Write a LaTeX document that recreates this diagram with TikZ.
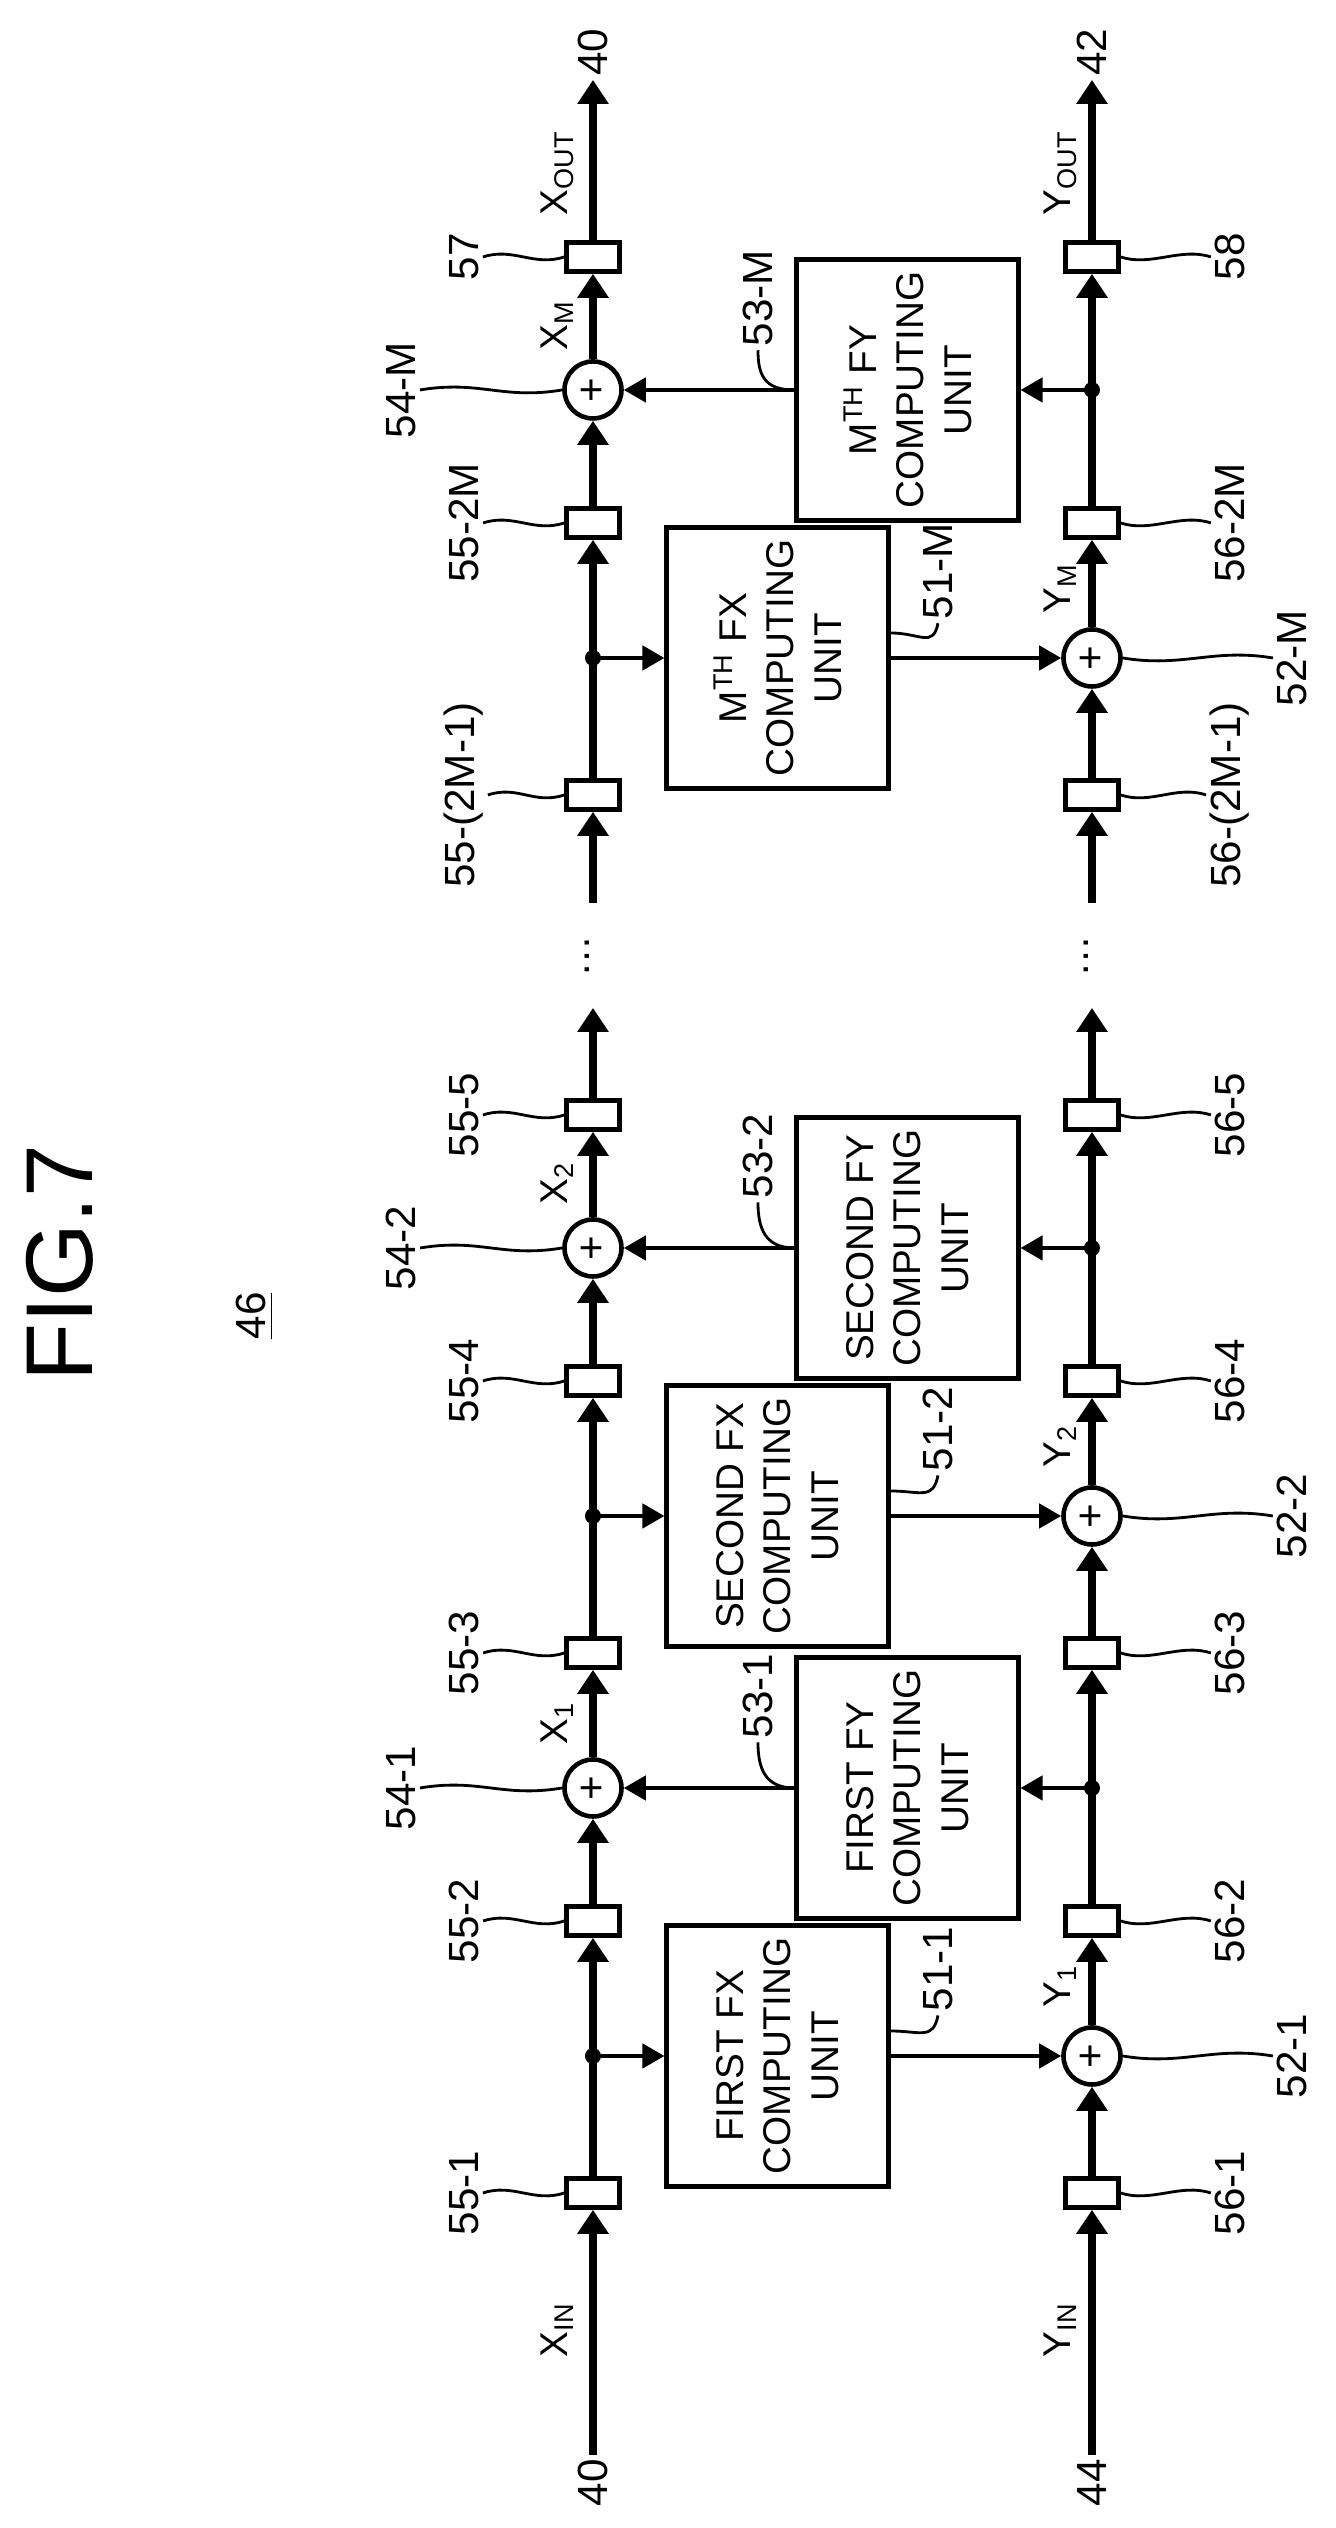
\documentclass[tikz,border=0pt]{standalone}
\usepackage{fontspec}
\setmainfont{Liberation Sans}
\usetikzlibrary{arrows.meta}
\tikzset{
  sig/.style={line width=2.4pt},
  sigto/.style={sig,-{Triangle[length=0.24cm,width=0.3cm]}},
  feed/.style={line width=1.3pt,-{Triangle[length=0.22cm,width=0.24cm]}},
  reg/.style={draw,fill=white,line width=1.3pt,minimum width=0.29cm,minimum height=0.53cm,inner sep=0pt},
  adder/.style={draw,circle,fill=white,line width=1.3pt,minimum size=0.57cm,inner sep=0pt,font=\fontsize{12}{12}\selectfont},
  jn/.style={circle,fill,inner sep=0pt,minimum size=0.16cm},
  unit/.style={draw,line width=1.4pt,minimum width=2.61cm,minimum height=2.21cm,align=center,font=\fontsize{11}{13.5}\selectfont},
  ref/.style={inner sep=1pt,font=\fontsize{12}{12}\selectfont},
  sigl/.style={inner sep=1pt,font=\fontsize{11}{11}\selectfont},
  lead/.style={line width=0.8pt},
}
\begin{document}
\begin{tikzpicture}[x=0.01cm,y=0.01cm]
\begin{scope}[rotate=90,transform shape]
\useasboundingbox (0,0) rectangle (2528,1335);
% title
\node[font=\fontsize{27}{27}\selectfont] (fig) at (1265,1275) {FIG.7};
\node[ref] (l46) at (1212,1080) {\underline{46}};
% line ends
\coordinate (xs1) at (73,742);   \coordinate (xe1) at (1520,742);
\coordinate (xs2) at (1625,742); \coordinate (xe2) at (2448,742);
\coordinate (ys1) at (73,243);   \coordinate (ye1) at (1520,243);
\coordinate (ys2) at (1625,243); \coordinate (ye2) at (2448,243);
% columns
\foreach \k/\b/\ord in {1/335/FIRST,2/875/SECOND,M/1733/{M\textsuperscript{TH}}}{
  \node[reg] (bxa\k) at (\b,742) {};
  \node[jn] (dx\k) at (\b+137,742) {};
  \node[reg] (bxb\k) at (\b+272,742) {};
  \node[adder] (ax\k) at (\b+405,742) {+};
  \node[reg] (bya\k) at (\b,243) {};
  \node[adder] (ay\k) at (\b+137,243) {+};
  \node[reg] (byb\k) at (\b+272,243) {};
  \node[jn] (dy\k) at (\b+405,243) {};
  \node[unit] (fx\k) at (\b+137,557.5) {\ord\ FX\\COMPUTING\\UNIT};
  \node[unit] (fy\k) at (\b+405,427.5) {\ord\ FY\\COMPUTING\\UNIT};
  \draw[sig] (bxa\k) -- (dx\k.center);
  \draw[sigto] (dx\k.center) -- (bxb\k);
  \draw[sigto] (bxb\k) -- (ax\k);
  \draw[sigto] (bya\k) -- (ay\k);
  \draw[sigto] (ay\k) -- (byb\k);
  \draw[sig] (byb\k) -- (dy\k.center);
  \draw[feed] (dx\k.center) -- (fx\k);
  \draw[feed] (fx\k) -- (ay\k);
  \draw[feed] (dy\k.center) -- (fy\k);
  \draw[feed] (fy\k) -- (ax\k);
}
\node[reg] (bxc2) at (1413,742) {};
\node[reg] (bxcM) at (2271,742) {};
\node[reg] (byc2) at (1413,243) {};
\node[reg] (bycM) at (2271,243) {};
\draw[sigto] (xs1) -- (bxa1);
\draw[sigto] (ax1) -- (bxa2);
\draw[sigto] (ax2) -- (bxc2);
\draw[sigto] (bxc2) -- (xe1);
\draw[sigto] (xs2) -- (bxaM);
\draw[sigto] (axM) -- (bxcM);
\draw[sigto] (bxcM) -- (xe2);
\draw[sigto] (ys1) -- (bya1);
\draw[sigto] (dy1.center) -- (bya2);
\draw[sigto] (dy2.center) -- (byc2);
\draw[sigto] (byc2) -- (ye1);
\draw[sigto] (ys2) -- (byaM);
\draw[sigto] (dyM.center) -- (bycM);
\draw[sigto] (bycM) -- (ye2);
\node[ref] (gapx) at (1572,748) {\ldots};
\node[ref] (gapy) at (1572,249) {\ldots};
% end labels
\node[ref,anchor=east] (l40a) at (xs1) {40};
\node[ref,anchor=west] (l40b) at (xe2) {40};
\node[ref,anchor=east] (l44) at (ys1) {44};
\node[ref,anchor=west] (l42) at (ye2) {42};
% signal names
\node[sigl] (sxin) at (198,778) {X\textsubscript{IN}};
\node[sigl] (syin) at (198,275) {Y\textsubscript{IN}};
\node[sigl] (sxout) at (2355,778) {X\textsubscript{OUT}};
\node[sigl] (syout) at (2355,275) {Y\textsubscript{OUT}};
\foreach \k/\b in {1/335,2/875,M/1733}{
  \node[sigl] (sx\k) at (\b+470,778) {X\textsubscript{\k}};
  \node[sigl] (sy\k) at (\b+207,275) {Y\textsubscript{\k}};
}
% reference numerals
\foreach \k/\b/\ra/\rb/\rs/\ya/\yb/\ys/\rf/\rg in {
  1/335/55-1/55-2/54-1/56-1/56-2/52-1/51-1/53-1,
  2/875/55-3/55-4/54-2/56-3/56-4/52-2/51-2/53-2,
  M/1733/55-(2M-1)/55-2M/54-M/56-(2M-1)/56-2M/52-M/51-M/53-M}{
  \node[ref] (lxa\k) at (\b,871) {\ra};
  \node[ref] (lxb\k) at (\b+272,871) {\rb};
  \node[ref] (lax\k) at (\b+405,934) {\rs};
  \node[ref] (lya\k) at (\b,105) {\ya};
  \node[ref] (lyb\k) at (\b+272,105) {\yb};
  \node[ref] (lay\k) at (\b+137,43) {\ys};
  \node[ref] (lfx\k) at (\b+224,397) {\rf};
  \node[ref] (lfy\k) at (\b+497,577) {\rg};
  \draw[lead] (lxa\k.south) .. controls +(10,-30) and +(-10,30) .. (bxa\k.north);
  \draw[lead] (lxb\k.south) .. controls +(10,-30) and +(-10,30) .. (bxb\k.north);
  \draw[lead] (lax\k.south) .. controls +(10,-60) and +(-10,60) .. (ax\k.north);
  \draw[lead] (lya\k.north) .. controls +(10,30) and +(-10,-30) .. (bya\k.south);
  \draw[lead] (lyb\k.north) .. controls +(10,30) and +(-10,-30) .. (byb\k.south);
  \draw[lead] (lay\k.north) .. controls +(10,60) and +(-10,-60) .. (ay\k.south);
  \draw[lead] (fx\k.south) ++(25,0) .. controls +(0,-30) and +(-25,5) .. (lfx\k.west);
  \draw[lead] (fy\k.north) .. controls +(0,30) and +(-25,0) .. (lfy\k.west);
}
\foreach \n/\u/\ra/\ya in {c2/1413/55-5/56-5,cM/2271/57/58}{
  \node[ref] (lx\n) at (\u,871) {\ra};
  \node[ref] (ly\n) at (\u,105) {\ya};
  \draw[lead] (lx\n.south) .. controls +(10,-30) and +(-10,30) .. (bx\n.north);
  \draw[lead] (ly\n.north) .. controls +(10,30) and +(-10,-30) .. (by\n.south);
}
\end{scope}
\end{tikzpicture}
\end{document}
